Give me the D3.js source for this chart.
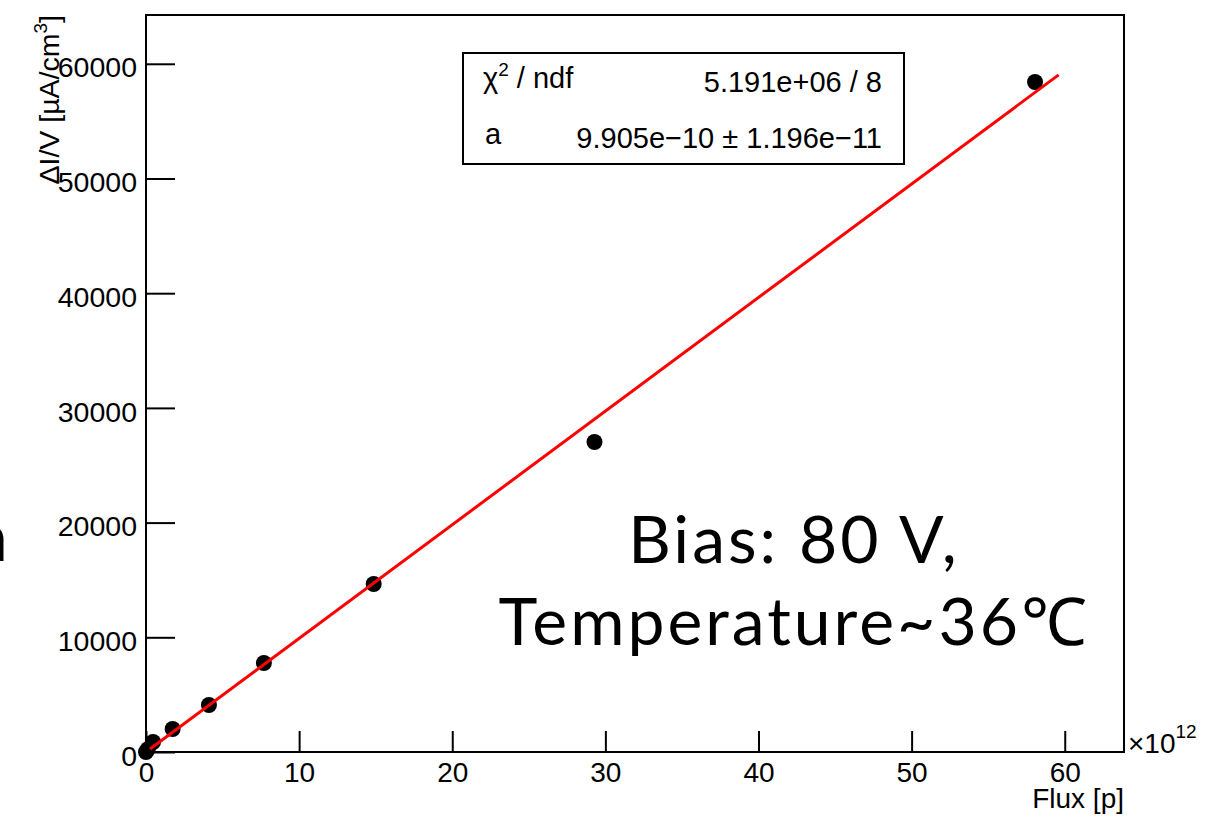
<!DOCTYPE html>
<html>
<head>
<meta charset="utf-8">
<script src="https://cdn.jsdelivr.net/npm/d3@7"></script>
<style>
  body { margin: 0; background: #fff; }
  svg { display: block; }
</style>
</head>
<body>
<div id="chart"></div>
<script>
// Measured points (flux in units of 1e12 protons, ΔI/V in µA/cm³)
const fluxE12 = [0, 0.12, 0.46, 1.74, 4.11, 7.70, 14.87, 29.29, 58.06];
const deltaIV = [0, 250, 870, 2005, 4098, 7760, 14647, 27027, 58413];

// Linear fit y = a*x, drawn over the fit range
const fitRange = [0.26, 59.6];
const fitA = 9.905e-10;

// Axis ticks
const xMajor = [0, 10, 20, 30, 40, 50, 60];
const yMajor = [0, 10000, 20000, 30000, 40000, 50000, 60000];

// Stats box rows
const statsLabels = ["χ", "a"];
const statsValues = ["5.191e+06 / 8", "9.905e\u221210 \u00b1 1.196e\u221211"];

// Annotation text
const noteLines = ["Bias: 80 V,", "Temperature~36\u2103"];

const W = 1218, H = 818;
const frame = { left: 146, top: 15, right: 1124, bottom: 752 };
const axisFont = "'Liberation Sans', Arial, Helvetica, sans-serif";
const noteFont = "Lato, 'Noto Sans', 'Noto Sans CJK JP', sans-serif";

const x = d3.scaleLinear().domain([0, 63.87]).range([frame.left, frame.right]);
const y = d3.scaleLinear().domain([0, 64254]).range([frame.bottom, frame.top]);

const svg = d3.select("#chart").append("svg")
    .attr("width", W)
    .attr("height", H);

svg.append("rect").attr("width", W).attr("height", H).attr("fill", "#fff");

// cut-off slide text at the left edge
svg.append("text")
    .attr("x", 8).attr("y", 561)
    .attr("text-anchor", "end")
    .attr("font-family", noteFont)
    .attr("font-size", 68)
    .text("n");

// frame
svg.append("rect")
    .attr("x", frame.left).attr("y", frame.top)
    .attr("width", frame.right - frame.left)
    .attr("height", frame.bottom - frame.top)
    .attr("fill", "none")
    .attr("stroke", "#000")
    .attr("stroke-width", 2);

const xMinor = d3.range(0, 64, 2).filter(v => v % 10 !== 0);
const yMinor = d3.range(0, 64001, 2000).filter(v => v % 10000 !== 0);

// x axis (ticks point inward)
const gx = svg.append("g").attr("transform", `translate(0,${frame.bottom})`);
gx.call(d3.axisBottom(x).tickValues(xMinor).tickSize(-10).tickFormat(""));
gx.call(d3.axisBottom(x).tickValues(xMajor).tickSize(-21).tickPadding(10).tickFormat(d3.format("d")));
gx.select(".domain").remove();
gx.selectAll("line").attr("stroke", "#000").attr("stroke-width", 2);
gx.selectAll("text")
    .attr("font-family", axisFont)
    .attr("font-size", 28)
    .attr("fill", "#000");

// y axis
const gy = svg.append("g").attr("transform", `translate(${frame.left},0)`);
gy.call(d3.axisLeft(y).tickValues(yMinor).tickSize(-14).tickFormat(""));
gy.call(d3.axisLeft(y).tickValues(yMajor).tickSize(-29).tickPadding(9).tickFormat(d3.format("d")));
gy.select(".domain").remove();
gy.selectAll("line").attr("stroke", "#000").attr("stroke-width", 2);
gy.selectAll("text")
    .attr("font-family", axisFont)
    .attr("font-size", 28.5)
    .attr("dy", "0.46em")
    .attr("fill", "#000");

// axis titles
svg.append("text")
    .attr("x", frame.right).attr("y", 808)
    .attr("text-anchor", "end")
    .attr("font-family", axisFont)
    .attr("font-size", 28)
    .text("Flux [p]");

const xExp = svg.append("text")
    .attr("x", 1128).attr("y", 753)
    .attr("font-family", axisFont)
    .attr("font-size", 28);
xExp.append("tspan").text("\u00d710");
xExp.append("tspan").attr("dy", -15).attr("font-size", 19).text("12");

const yTitle = svg.append("text")
    .attr("transform", `translate(59,${frame.top}) rotate(-90)`)
    .attr("text-anchor", "end")
    .attr("font-family", axisFont)
    .attr("font-size", 28.5);
yTitle.append("tspan").text("\u0394I/V [\u00b5A/cm");
yTitle.append("tspan").attr("dy", -12).attr("font-size", 19).text("3");
yTitle.append("tspan").attr("dy", 12).text("]");

// data points
svg.append("g").selectAll("circle")
    .data(fluxE12.map((f, i) => [f, deltaIV[i]]))
    .join("circle")
    .attr("cx", d => x(d[0]))
    .attr("cy", d => y(d[1]))
    .attr("r", 8)
    .attr("fill", "#000");

// fit line
svg.append("path")
    .datum(fitRange.map(f => [f, fitA * f * 1e12]))
    .attr("d", d3.line().x(d => x(d[0])).y(d => y(d[1])))
    .attr("stroke", "#ff0000")
    .attr("stroke-width", 3)
    .attr("fill", "none");

// stats box
const stats = svg.append("g");
stats.append("rect")
    .attr("x", 463).attr("y", 53)
    .attr("width", 441).attr("height", 111)
    .attr("fill", "#fff")
    .attr("stroke", "#000")
    .attr("stroke-width", 2);

const rowY = [88, 144];
const chi = stats.append("text")
    .attr("x", 483).attr("y", rowY[0])
    .attr("font-family", axisFont)
    .attr("font-size", 29);
chi.append("tspan").text(statsLabels[0]);
chi.append("tspan").attr("dy", -12).attr("font-size", 19).text("2");
chi.append("tspan").attr("dy", 12).text(" / ndf");

stats.append("text")
    .attr("x", 485).attr("y", rowY[1])
    .attr("font-family", axisFont)
    .attr("font-size", 29)
    .text(statsLabels[1]);

stats.selectAll("text.val")
    .data(statsValues)
    .join("text")
    .attr("class", "val")
    .attr("x", 882)
    .attr("y", (d, i) => rowY[i] + 4)
    .attr("text-anchor", "end")
    .attr("font-family", axisFont)
    .attr("font-size", 29)
    .text(d => d);

// annotation
svg.append("g").selectAll("text")
    .data(noteLines)
    .join("text")
    .attr("x", 794)
    .attr("y", (d, i) => 563 + i * 82)
    .attr("text-anchor", "middle")
    .attr("font-family", noteFont)
    .attr("font-size", 66)
    .attr("letter-spacing", 3)
    .text(d => d);
</script>
</body>
</html>
